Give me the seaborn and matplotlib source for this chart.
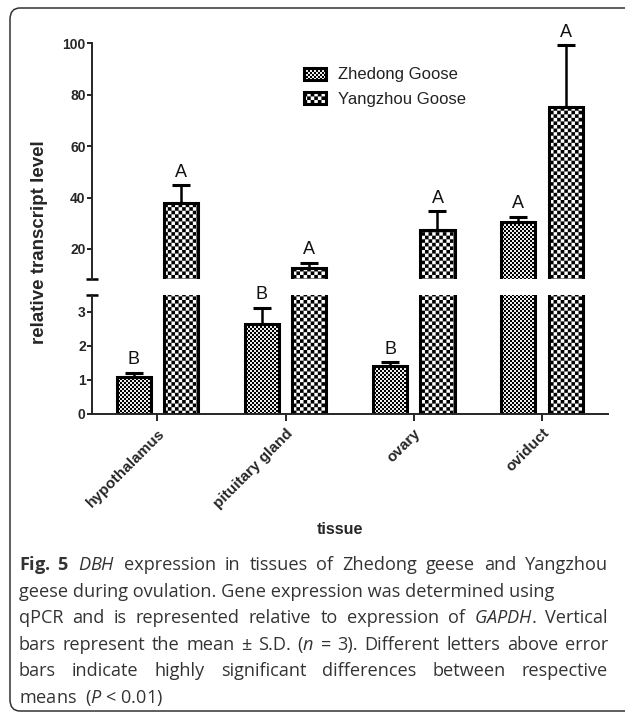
import matplotlib
matplotlib.use('Agg')
import matplotlib.pyplot as plt
import matplotlib.hatch as mhatch
from matplotlib.path import Path
from matplotlib.patches import FancyBboxPatch
import seaborn as sns
import pandas as pd
import numpy as np

# data
tissues = ['hypothalamus', 'pituitary gland', 'ovary', 'oviduct']
breeds = ['Zhedong Goose', 'Yangzhou Goose']
zhedong_mean = [1.07, 2.63, 1.39, 30.6]
zhedong_sd = [0.14, 0.50, 0.13, 2.0]
yangzhou_mean = [37.9, 12.5, 27.4, 75.2]
yangzhou_sd = [7.0, 2.2, 7.2, 24.1]
zhedong_letters = ['B', 'B', 'B', 'A']
yangzhou_letters = ['A', 'A', 'A', 'A']
top_ticks = [20, 40, 60, 80, 100]
bottom_ticks = [0, 1, 2, 3]

# (text, justified?)
caption = [
    (r'$\mathbf{Fig.\;5}$ $\mathit{DBH}$ expression in tissues of Zhedong geese and Yangzhou', True),
    ('geese during ovulation. Gene expression was determined using', False),
    (r'qPCR and is represented relative to expression of $\mathit{GAPDH}$. Vertical', True),
    (r'bars represent the mean ± S.D. ($\mathit{n}$ = 3). Different letters above error', True),
    ('bars indicate highly significant differences between respective', True),
    (r'means  ($\mathit{P}$ < 0.01)', False),
]


class CheckerHatch(mhatch.HatchPatternBase):
    """checkerboard fill: '*' coarse, '**' fine (squares per inch row)"""
    sizes = {1: 28, 2: 50}

    def __init__(self, hatch, density):
        self.n = self.sizes.get(hatch.count('*'), 0)
        self.num_vertices = (self.n * self.n // 2) * 5

    def set_vertices_and_codes(self, vertices, codes):
        n = self.n
        step = 1.0 / n
        k = 0
        for i in range(n):
            for j in range(n):
                if (i + j) % 2:
                    continue
                x0, y0 = i * step, j * step
                vertices[k:k + 5] = [(x0, y0), (x0 + step, y0), (x0 + step, y0 + step),
                                     (x0, y0 + step), (x0, y0)]
                codes[k:k + 5] = [Path.MOVETO, Path.LINETO, Path.LINETO,
                                  Path.LINETO, Path.CLOSEPOLY]
                k += 5


mhatch._hatch_types = [t for t in mhatch._hatch_types if t is not mhatch.Stars] + [CheckerHatch]

sns.set_style('ticks')
plt.rcParams['font.family'] = ['Liberation Sans', 'DejaVu Sans']
plt.rcParams['mathtext.fontset'] = 'custom'
plt.rcParams['mathtext.rm'] = 'Open Sans'
plt.rcParams['mathtext.it'] = 'Open Sans:italic'
plt.rcParams['mathtext.bf'] = 'Open Sans:bold'
plt.rcParams['hatch.linewidth'] = 0.05

df = pd.DataFrame({
    'tissue': tissues * 2,
    'breed': [breeds[0]] * 4 + [breeds[1]] * 4,
    'level': zhedong_mean + yangzhou_mean,
})
sds = {breeds[0]: zhedong_sd, breeds[1]: yangzhou_sd}
means = {breeds[0]: zhedong_mean, breeds[1]: yangzhou_mean}
letters = {breeds[0]: zhedong_letters, breeds[1]: yangzhou_letters}
hatches = {breeds[0]: '**', breeds[1]: '*'}

W, H = 625, 713
fig = plt.figure(figsize=(W / 100, H / 100), dpi=100)
ax_top = fig.add_axes([92 / W, 1 - 279.3 / H, 516 / W, 236 / H])
ax_bot = fig.add_axes([92 / W, 1 - 413.5 / H, 516 / W, 118.5 / H])

BREAK = 3.5


def draw(ax):
    sns.barplot(data=df, x='tissue', y='level', hue='breed', order=tissues,
                hue_order=breeds, palette={b: 'white' for b in breeds},
                width=0.74, gap=0.28, errorbar=None, edgecolor='black',
                linewidth=2.2, legend=False, ax=ax)
    for cont, b in zip(ax.containers, breeds):
        xs = []
        for bar in cont:
            bar.set_hatch(hatches[b])
            xs.append(bar.get_x() + bar.get_width() / 2)
        ax.errorbar(xs, means[b], yerr=[np.zeros(len(xs)), sds[b]], fmt='none',
                    ecolor='black', elinewidth=1.8, capsize=6.5, capthick=2.2)
        for x, m, s, letter in zip(xs, means[b], sds[b], letters[b]):
            top = m + s
            if (top > BREAK) == (ax is ax_top):
                ax.annotate(letter, (x, top), xytext=(0, 3), textcoords='offset points',
                            ha='center', va='bottom', fontsize=13, color='#111111',
                            annotation_clip=False)
    ax.set_xlim(-0.51, 3.515)
    ax.set_xlabel('')
    ax.set_ylabel('')
    sns.despine(ax=ax)
    for sp in ax.spines.values():
        sp.set_linewidth(1.4)
    ax.tick_params(axis='y', length=3.5, width=1.4, labelsize=10, pad=1)


draw(ax_top)
draw(ax_bot)

ax_top.set_ylim(8.2, 100)
ax_top.set_yticks(top_ticks)
ax_top.spines['bottom'].set_visible(False)
ax_top.tick_params(axis='x', bottom=False, labelbottom=False)

ax_bot.set_ylim(0, BREAK)
ax_bot.set_yticks(bottom_ticks)
ax_bot.set_xticks(range(len(tissues)))
ax_bot.set_xticklabels(tissues, rotation=45, ha='right', rotation_mode='anchor',
                       fontweight='bold', fontsize=11)
ax_bot.tick_params(axis='x', length=5, width=1.4, pad=4)

for ax in (ax_top, ax_bot):
    for lbl in ax.get_yticklabels():
        lbl.set_fontweight('bold')

# break caps at the cut ends of the y axis
ax_top.plot([0], [0], marker='_', ms=9, mew=1.8, color='black',
            transform=ax_top.transAxes, clip_on=False)
ax_bot.plot([0], [1], marker='_', ms=9, mew=1.8, color='black',
            transform=ax_bot.transAxes, clip_on=False)

handles = [ax_top.containers[0][0], ax_top.containers[1][0]]
fig.legend(handles, breeds, loc='center left', bbox_to_anchor=(296 / W, 1 - 87 / H),
           frameon=False, fontsize=12, handlelength=1.3, handleheight=0.75,
           handletextpad=0.7, labelspacing=0.55, borderpad=0, labelcolor='#222222')

fig.text(40 / W, 1 - 242 / H, 'relative transcript level', rotation=90,
         ha='center', va='center', fontsize=13.5, fontweight='bold')
fig.text(340 / W, 1 - 530 / H, 'tissue', ha='center', va='center',
         fontsize=11.5, fontweight='bold')

# caption, justified lines laid out word by word
cap_kw = dict(ha='left', va='center', fontsize=13.1, family='Open Sans', color='#333333')
renderer = fig.canvas.get_renderer()
x_left, x_right = 19, 608
for i, (line, justify) in enumerate(caption):
    y = 1 - (565 + 26.6 * i) / H
    if not justify:
        fig.text(x_left / W, y, line, **cap_kw)
        continue
    words = [fig.text(0, y, w, **cap_kw) for w in line.split(' ')]
    widths = [t.get_window_extent(renderer).width for t in words]
    space = (x_right - x_left - sum(widths)) / (len(words) - 1)
    x = x_left
    for t, w in zip(words, widths):
        t.set_x(x / W)
        x += w + space

box = FancyBboxPatch((10 / W, 2 / H), 1.5, 1 - 10 / H,
                     boxstyle='round,pad=0,rounding_size=0.016',
                     transform=fig.transFigure, facecolor='none',
                     edgecolor='#333333', linewidth=1.1)
fig.add_artist(box)

fig.savefig('out.png', dpi=100)
